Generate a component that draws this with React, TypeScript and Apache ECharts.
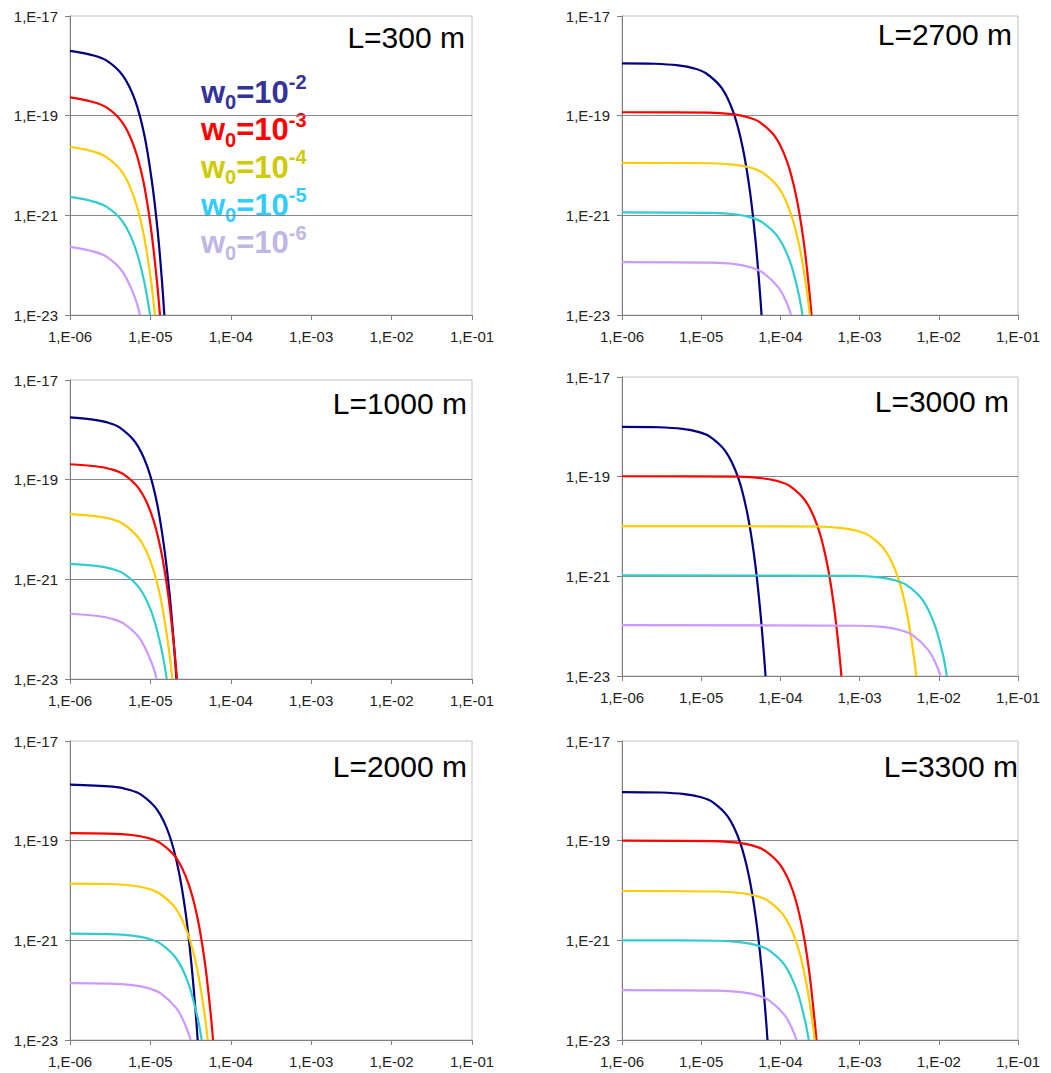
import React, { useEffect, useRef } from 'react';
import * as echarts from 'echarts';

// ---------- data ----------
const panelTitles = ['L=300 m', 'L=2700 m', 'L=1000 m', 'L=3000 m', 'L=2000 m', 'L=3300 m'];
const seriesNames = ['w0=10-2', 'w0=10-3', 'w0=10-4', 'w0=10-5', 'w0=10-6'];
const legendExponents = ['-2', '-3', '-4', '-5', '-6'];
const xTickValues = [1e-6, 1e-5, 1e-4, 1e-3, 1e-2, 1e-1];
const yTickValues = [1e-23, 1e-21, 1e-19, 1e-17];

const L300_w2 = [[1e-6, 2.0e-18], [1.83e-6, 1.66e-18], [2.89e-6, 1.26e-18], [4.57e-6, 6.3e-19], [6.47e-6, 2.0e-19], [8.43e-6, 4.0e-20], [1.04e-5, 5.0e-21], [1.23e-5, 5.0e-22], [1.39e-5, 5.0e-23], [1.49e-5, 1e-23]];
const L300_w3 = [[1e-6, 2.33e-19], [1.78e-6, 1.95e-19], [2.81e-6, 1.48e-19], [4.45e-6, 7.4e-20], [6.29e-6, 2.34e-20], [8.2e-6, 4.7e-21], [1.01e-5, 5.9e-22], [1.19e-5, 5.9e-23], [1.315e-5, 1e-23]];
const L300_w4 = [[1e-6, 2.38e-20], [1.75e-6, 2.0e-20], [2.77e-6, 1.51e-20], [4.39e-6, 7.6e-21], [6.2e-6, 2.4e-21], [8.09e-6, 4.8e-22], [1.0e-5, 6.0e-23], [1.14e-5, 1e-23]];
const L300_w5 = [[1e-6, 2.35e-21], [1.82e-6, 1.95e-21], [2.87e-6, 1.48e-21], [4.54e-6, 7.4e-22], [6.42e-6, 2.34e-22], [8.37e-6, 4.7e-23], [9.89e-6, 1e-23]];
const L300_w6 = [[1e-6, 2.33e-22], [1.8e-6, 1.95e-22], [2.84e-6, 1.48e-22], [4.49e-6, 7.4e-23], [6.35e-6, 2.34e-23], [7.43e-6, 1e-23]];

const L1000_w2 = [[1e-6, 1.78e-18], [1.84e-6, 1.62e-18], [2.91e-6, 1.41e-18], [4.12e-6, 1.12e-18], [6.51e-6, 5.6e-19], [9.2e-6, 1.78e-19], [1.2e-5, 3.55e-20], [1.48e-5, 4.5e-21], [1.745e-5, 4.5e-22], [1.97e-5, 4.5e-23], [2.11e-5, 1e-23]];
const L1000_w3 = [[1e-6, 2.04e-19], [2.06e-6, 1.86e-19], [3.26e-6, 1.62e-19], [4.61e-6, 1.29e-19], [7.28e-6, 6.46e-20], [1.03e-5, 2.04e-20], [1.343e-5, 4.07e-21], [1.66e-5, 5.1e-22], [1.953e-5, 5.1e-23], [2.14e-5, 1e-23]];
const L1000_w4 = [[1e-6, 2.04e-20], [2.06e-6, 1.86e-20], [3.26e-6, 1.62e-20], [4.61e-6, 1.29e-20], [7.29e-6, 6.46e-21], [1.03e-5, 2.04e-21], [1.344e-5, 4.07e-22], [1.66e-5, 5.1e-23], [1.875e-5, 1e-23]];
const L1000_w5 = [[1e-6, 2.04e-21], [2.1e-6, 1.86e-21], [3.32e-6, 1.62e-21], [4.7e-6, 1.29e-21], [7.43e-6, 6.46e-22], [1.05e-5, 2.04e-22], [1.37e-5, 4.07e-23], [1.596e-5, 1e-23]];
const L1000_w6 = [[1e-6, 2.04e-22], [2.09e-6, 1.86e-22], [3.31e-6, 1.62e-22], [4.68e-6, 1.29e-22], [7.39e-6, 6.46e-23], [1.045e-5, 2.04e-23], [1.197e-5, 1e-23]];

const L2000_w2 = [[1e-6, 1.33e-18], [3.42e-6, 1.21e-18], [5.41e-6, 1.05e-18], [7.65e-6, 8.4e-19], [1.21e-5, 4.2e-19], [1.71e-5, 1.33e-19], [2.23e-5, 2.65e-20], [2.76e-5, 3.33e-21], [3.24e-5, 3.33e-22], [3.67e-5, 3.33e-23], [3.87e-5, 1e-23]];
const L2000_w3 = [[1e-6, 1.42e-19], [2.95e-6, 1.39e-19], [5.9e-6, 1.3e-19], [9.33e-6, 1.13e-19], [1.32e-5, 9.0e-20], [2.09e-5, 4.5e-20], [2.95e-5, 1.42e-20], [3.85e-5, 2.84e-21], [4.76e-5, 3.57e-22], [5.6e-5, 3.57e-23], [6.01e-5, 1e-23]];
const L2000_w4 = [[1e-6, 1.38e-20], [2.91e-6, 1.35e-20], [5.83e-6, 1.26e-20], [9.21e-6, 1.1e-20], [1.3e-5, 8.7e-21], [2.06e-5, 4.37e-21], [2.91e-5, 1.38e-21], [3.8e-5, 2.75e-22], [4.7e-5, 3.47e-23], [5.16e-5, 1e-23]];
const L2000_w5 = [[1e-6, 1.36e-21], [2.97e-6, 1.33e-21], [5.94e-6, 1.24e-21], [9.4e-6, 1.08e-21], [1.33e-5, 8.6e-22], [2.1e-5, 4.32e-22], [2.97e-5, 1.36e-22], [3.88e-5, 2.72e-23], [4.35e-5, 1e-23]];
const L2000_w6 = [[1e-6, 1.38e-22], [2.97e-6, 1.35e-22], [5.94e-6, 1.26e-22], [9.39e-6, 1.1e-22], [1.33e-5, 8.7e-23], [2.1e-5, 4.37e-23], [2.65e-5, 2.19e-23], [3.17e-5, 1e-23]];

const L2700_w2 = [[1e-6, 1.12e-18], [2.57e-6, 1.1e-18], [5.14e-6, 1.02e-18], [8.13e-6, 8.9e-19], [1.15e-5, 7.1e-19], [1.82e-5, 3.55e-19], [2.57e-5, 1.12e-19], [3.35e-5, 2.24e-20], [4.15e-5, 2.82e-21], [4.88e-5, 2.82e-22], [5.52e-5, 2.82e-23], [5.78e-5, 1e-23]];
const L2700_w3 = [[1e-6, 1.17e-19], [1.22e-5, 1.15e-19], [2.44e-5, 1.07e-19], [3.87e-5, 9.3e-20], [5.47e-5, 7.4e-20], [8.65e-5, 3.72e-20], [1.22e-4, 1.17e-20], [1.59e-4, 2.34e-21], [1.97e-4, 2.95e-22], [2.32e-4, 2.95e-23], [2.47e-4, 1e-23]];
const L2700_w4 = [[1e-6, 1.13e-20], [1.34e-5, 1.11e-20], [2.69e-5, 1.03e-20], [4.25e-5, 9.0e-21], [6.01e-5, 7.1e-21], [9.51e-5, 3.58e-21], [1.34e-4, 1.13e-21], [1.75e-4, 2.26e-22], [2.17e-4, 2.84e-23], [2.35e-4, 1e-23]];
const L2700_w5 = [[1e-6, 1.15e-21], [1.33e-5, 1.12e-21], [2.65e-5, 1.05e-21], [4.2e-5, 9.1e-22], [5.94e-5, 7.2e-22], [9.39e-5, 3.63e-22], [1.33e-4, 1.15e-22], [1.68e-4, 2.88e-23], [1.9e-4, 1e-23]];
const L2700_w6 = [[1e-6, 1.15e-22], [1.33e-5, 1.12e-22], [2.65e-5, 1.05e-22], [4.19e-5, 9.1e-23], [5.93e-5, 7.2e-23], [9.37e-5, 3.63e-23], [1.19e-4, 1.82e-23], [1.36e-4, 1e-23]];

const L3000_w2 = [[1e-6, 1.0e-18], [2.9e-6, 9.8e-19], [5.8e-6, 9.1e-19], [9.17e-6, 7.94e-19], [1.3e-5, 6.3e-19], [2.05e-5, 3.16e-19], [2.9e-5, 1.0e-19], [3.78e-5, 2.0e-20], [4.68e-5, 2.5e-21], [5.5e-5, 2.5e-22], [6.22e-5, 2.5e-23], [6.49e-5, 1e-23]];
const L3000_w3 = [[1e-6, 1.02e-19], [2.94e-5, 1.0e-19], [5.88e-5, 9.3e-20], [9.29e-5, 8.13e-20], [1.32e-4, 6.46e-20], [2.08e-4, 3.24e-20], [2.94e-4, 1.02e-20], [3.83e-4, 2.04e-21], [4.74e-4, 2.57e-22], [5.58e-4, 2.57e-23], [5.89e-4, 1e-23]];
const L3000_w4 = [[1e-6, 1.02e-20], [3.0e-4, 1.0e-20], [5.99e-4, 9.3e-21], [9.48e-4, 8.13e-21], [1.34e-3, 6.46e-21], [2.12e-3, 3.24e-21], [3.0e-3, 1.02e-21], [3.91e-3, 2.04e-22], [4.83e-3, 2.57e-23], [5.2e-3, 1e-23]];
const L3000_w5 = [[1e-6, 1.05e-21], [8.9e-4, 1.02e-21], [1.78e-3, 9.55e-22], [2.81e-3, 8.3e-22], [3.98e-3, 6.6e-22], [6.29e-3, 3.31e-22], [8.9e-3, 1.05e-22], [1.13e-2, 2.63e-23], [1.26e-2, 1e-23]];
const L3000_w6 = [[1e-6, 1.05e-22], [1.04e-3, 1.02e-22], [2.09e-3, 9.55e-23], [3.3e-3, 8.3e-23], [4.67e-3, 6.6e-23], [7.38e-3, 3.31e-23], [9.34e-3, 1.66e-23], [1.05e-2, 1e-23]];

const L3300_w2 = [[1e-6, 9.46e-19], [3.08e-6, 9.25e-19], [6.16e-6, 8.6e-19], [9.74e-6, 7.5e-19], [1.38e-5, 6.0e-19], [2.18e-5, 3.0e-19], [3.08e-5, 9.46e-20], [4.02e-5, 1.89e-20], [4.97e-5, 2.38e-21], [5.84e-5, 2.38e-22], [6.53e-5, 3.0e-23], [6.87e-5, 1e-23]];
const L3300_w3 = [[1e-6, 1.0e-19], [1.43e-5, 9.8e-20], [2.85e-5, 9.1e-20], [4.51e-5, 7.94e-20], [6.37e-5, 6.3e-20], [1.01e-4, 3.16e-20], [1.43e-4, 1.0e-20], [1.86e-4, 2.0e-21], [2.3e-4, 2.5e-22], [2.7e-4, 2.5e-23], [2.85e-4, 1e-23]];
const L3300_w4 = [[1e-6, 9.77e-21], [1.57e-5, 9.55e-21], [3.13e-5, 8.9e-21], [4.95e-5, 7.76e-21], [7.01e-5, 6.2e-21], [1.11e-4, 3.1e-21], [1.57e-4, 9.8e-22], [2.04e-4, 1.95e-22], [2.53e-4, 2.45e-23], [2.71e-4, 1e-23]];
const L3300_w5 = [[1e-6, 1.0e-21], [1.61e-5, 9.8e-22], [3.23e-5, 9.1e-22], [5.1e-5, 7.94e-22], [7.21e-5, 6.3e-22], [1.14e-4, 3.16e-22], [1.61e-4, 1.0e-22], [2.04e-4, 2.5e-23], [2.28e-4, 1e-23]];
const L3300_w6 = [[1e-6, 1.0e-22], [1.6e-5, 9.8e-23], [3.19e-5, 9.1e-23], [5.05e-5, 7.94e-23], [7.14e-5, 6.3e-23], [1.13e-4, 3.16e-23], [1.43e-4, 1.58e-23], [1.6e-4, 1e-23]];

const panelData = [
  [L300_w2, L300_w3, L300_w4, L300_w5, L300_w6],
  [L2700_w2, L2700_w3, L2700_w4, L2700_w5, L2700_w6],
  [L1000_w2, L1000_w3, L1000_w4, L1000_w5, L1000_w6],
  [L3000_w2, L3000_w3, L3000_w4, L3000_w5, L3000_w6],
  [L2000_w2, L2000_w3, L2000_w4, L2000_w5, L2000_w6],
  [L3300_w2, L3300_w3, L3300_w4, L3300_w5, L3300_w6],
];

// ---------- styles / layout ----------
const FONT = 'Liberation Sans, Arial, sans-serif';
const lineColors = ['#000080', '#FF0000', '#FFCC00', '#33CCCC', '#CC99FF'];
const legendColors = ['#333399', '#FF0000', '#CCCC00', '#33CCFF', '#C0B8E4'];
const grids = [
  { left: 70, top: 16, width: 402, height: 299 },
  { left: 622, top: 16, width: 396, height: 299 },
  { left: 70, top: 380, width: 402, height: 299 },
  { left: 622, top: 377, width: 396, height: 299 },
  { left: 70, top: 741, width: 402, height: 299 },
  { left: 622, top: 741, width: 396, height: 299 },
];
const titlePos = [
  { right: 586, top: 22 },
  { right: 39, top: 19 },
  { right: 584, top: 388 },
  { right: 42, top: 386 },
  { right: 584, top: 751 },
  { right: 33, top: 751 },
];

const fmtExp = (v: number) => {
  const e = Math.round(Math.log10(v));
  const a = Math.abs(e);
  return '1,E' + (e < 0 ? '-' : '+') + (a < 10 ? '0' : '') + a;
};

function buildOption(): any {
  const xAxis = grids.map((_, i) => ({
    type: 'log',
    logBase: 10,
    gridIndex: i,
    min: 1e-6,
    max: 1e-1,
    axisLine: { show: true, lineStyle: { color: '#808080', width: 1 } },
    axisTick: { show: true, length: 5, customValues: xTickValues, lineStyle: { color: '#808080' } },
    axisLabel: { customValues: xTickValues, formatter: (v: number) => fmtExp(v), fontSize: 15, color: '#222', margin: 14, fontFamily: FONT },
    splitLine: { show: false },
    minorTick: { show: false },
  }));
  const yAxis = grids.map((_, i) => ({
    type: 'log',
    logBase: 10,
    gridIndex: i,
    min: 1e-23,
    max: 1e-17,
    axisLine: { show: true, lineStyle: { color: '#808080', width: 1 } },
    axisTick: { show: true, length: 5, customValues: yTickValues, lineStyle: { color: '#808080' } },
    axisLabel: { customValues: yTickValues, formatter: (v: number) => fmtExp(v), fontSize: 15, color: '#222', margin: 12, fontFamily: FONT },
    splitLine: { show: true, showMinLine: false, showMaxLine: false, lineStyle: { color: '#888888', width: 1 } },
  }));
  const series: any[] = [];
  panelData.forEach((curves, p) => {
    curves.forEach((data, s) => {
      series.push({
        name: panelTitles[p] + ' ' + seriesNames[s],
        type: 'line',
        xAxisIndex: p,
        yAxisIndex: p,
        data,
        symbol: 'none',
        showSymbol: false,
        smooth: 0.35,
        clip: true,
        silent: true,
        z: 3,
        lineStyle: { color: lineColors[s], width: 2.2 },
        itemStyle: { color: lineColors[s] },
      });
    });
  });
  const title = panelTitles.map((t, i) => ({
    text: t,
    right: titlePos[i].right,
    top: titlePos[i].top,
    padding: 0,
    textStyle: { fontSize: 30, fontWeight: 'normal', color: '#000', fontFamily: FONT },
  }));
  const legend = legendColors.map((c, i) => ({
    type: 'text',
    x: 201,
    y: 72 + 37.7 * i,
    silent: true,
    style: {
      text: '{w|w}{s|0}{w|=10}{p|' + legendExponents[i] + '}',
      align: 'left',
      verticalAlign: 'top',
      rich: {
        w: { fontSize: 31, fontWeight: 'bold', fontFamily: FONT, fill: c, lineHeight: 40 },
        s: { fontSize: 20, fontWeight: 'bold', fontFamily: FONT, fill: c, lineHeight: 19, verticalAlign: 'bottom' },
        p: { fontSize: 20, fontWeight: 'bold', fontFamily: FONT, fill: c, lineHeight: 31, verticalAlign: 'top' },
      },
    },
  }));
  return {
    animation: false,
    backgroundColor: '#ffffff',
    textStyle: { fontFamily: FONT },
    title,
    grid: grids.map((g) => ({ ...g, show: true, borderColor: '#c0c0c0', borderWidth: 1, backgroundColor: 'transparent', containLabel: false })),
    xAxis,
    yAxis,
    series,
    graphic: legend,
  };
}

export default function App() {
  const ref = useRef<HTMLDivElement>(null);
  useEffect(() => {
    document.body.style.margin = '0';
    const chart = echarts.init(ref.current!, null, { renderer: 'svg' });
    chart.setOption(buildOption());
    return () => chart.dispose();
  }, []);
  return <div ref={ref} style={{ width: 1051, height: 1073 }} />;
}
